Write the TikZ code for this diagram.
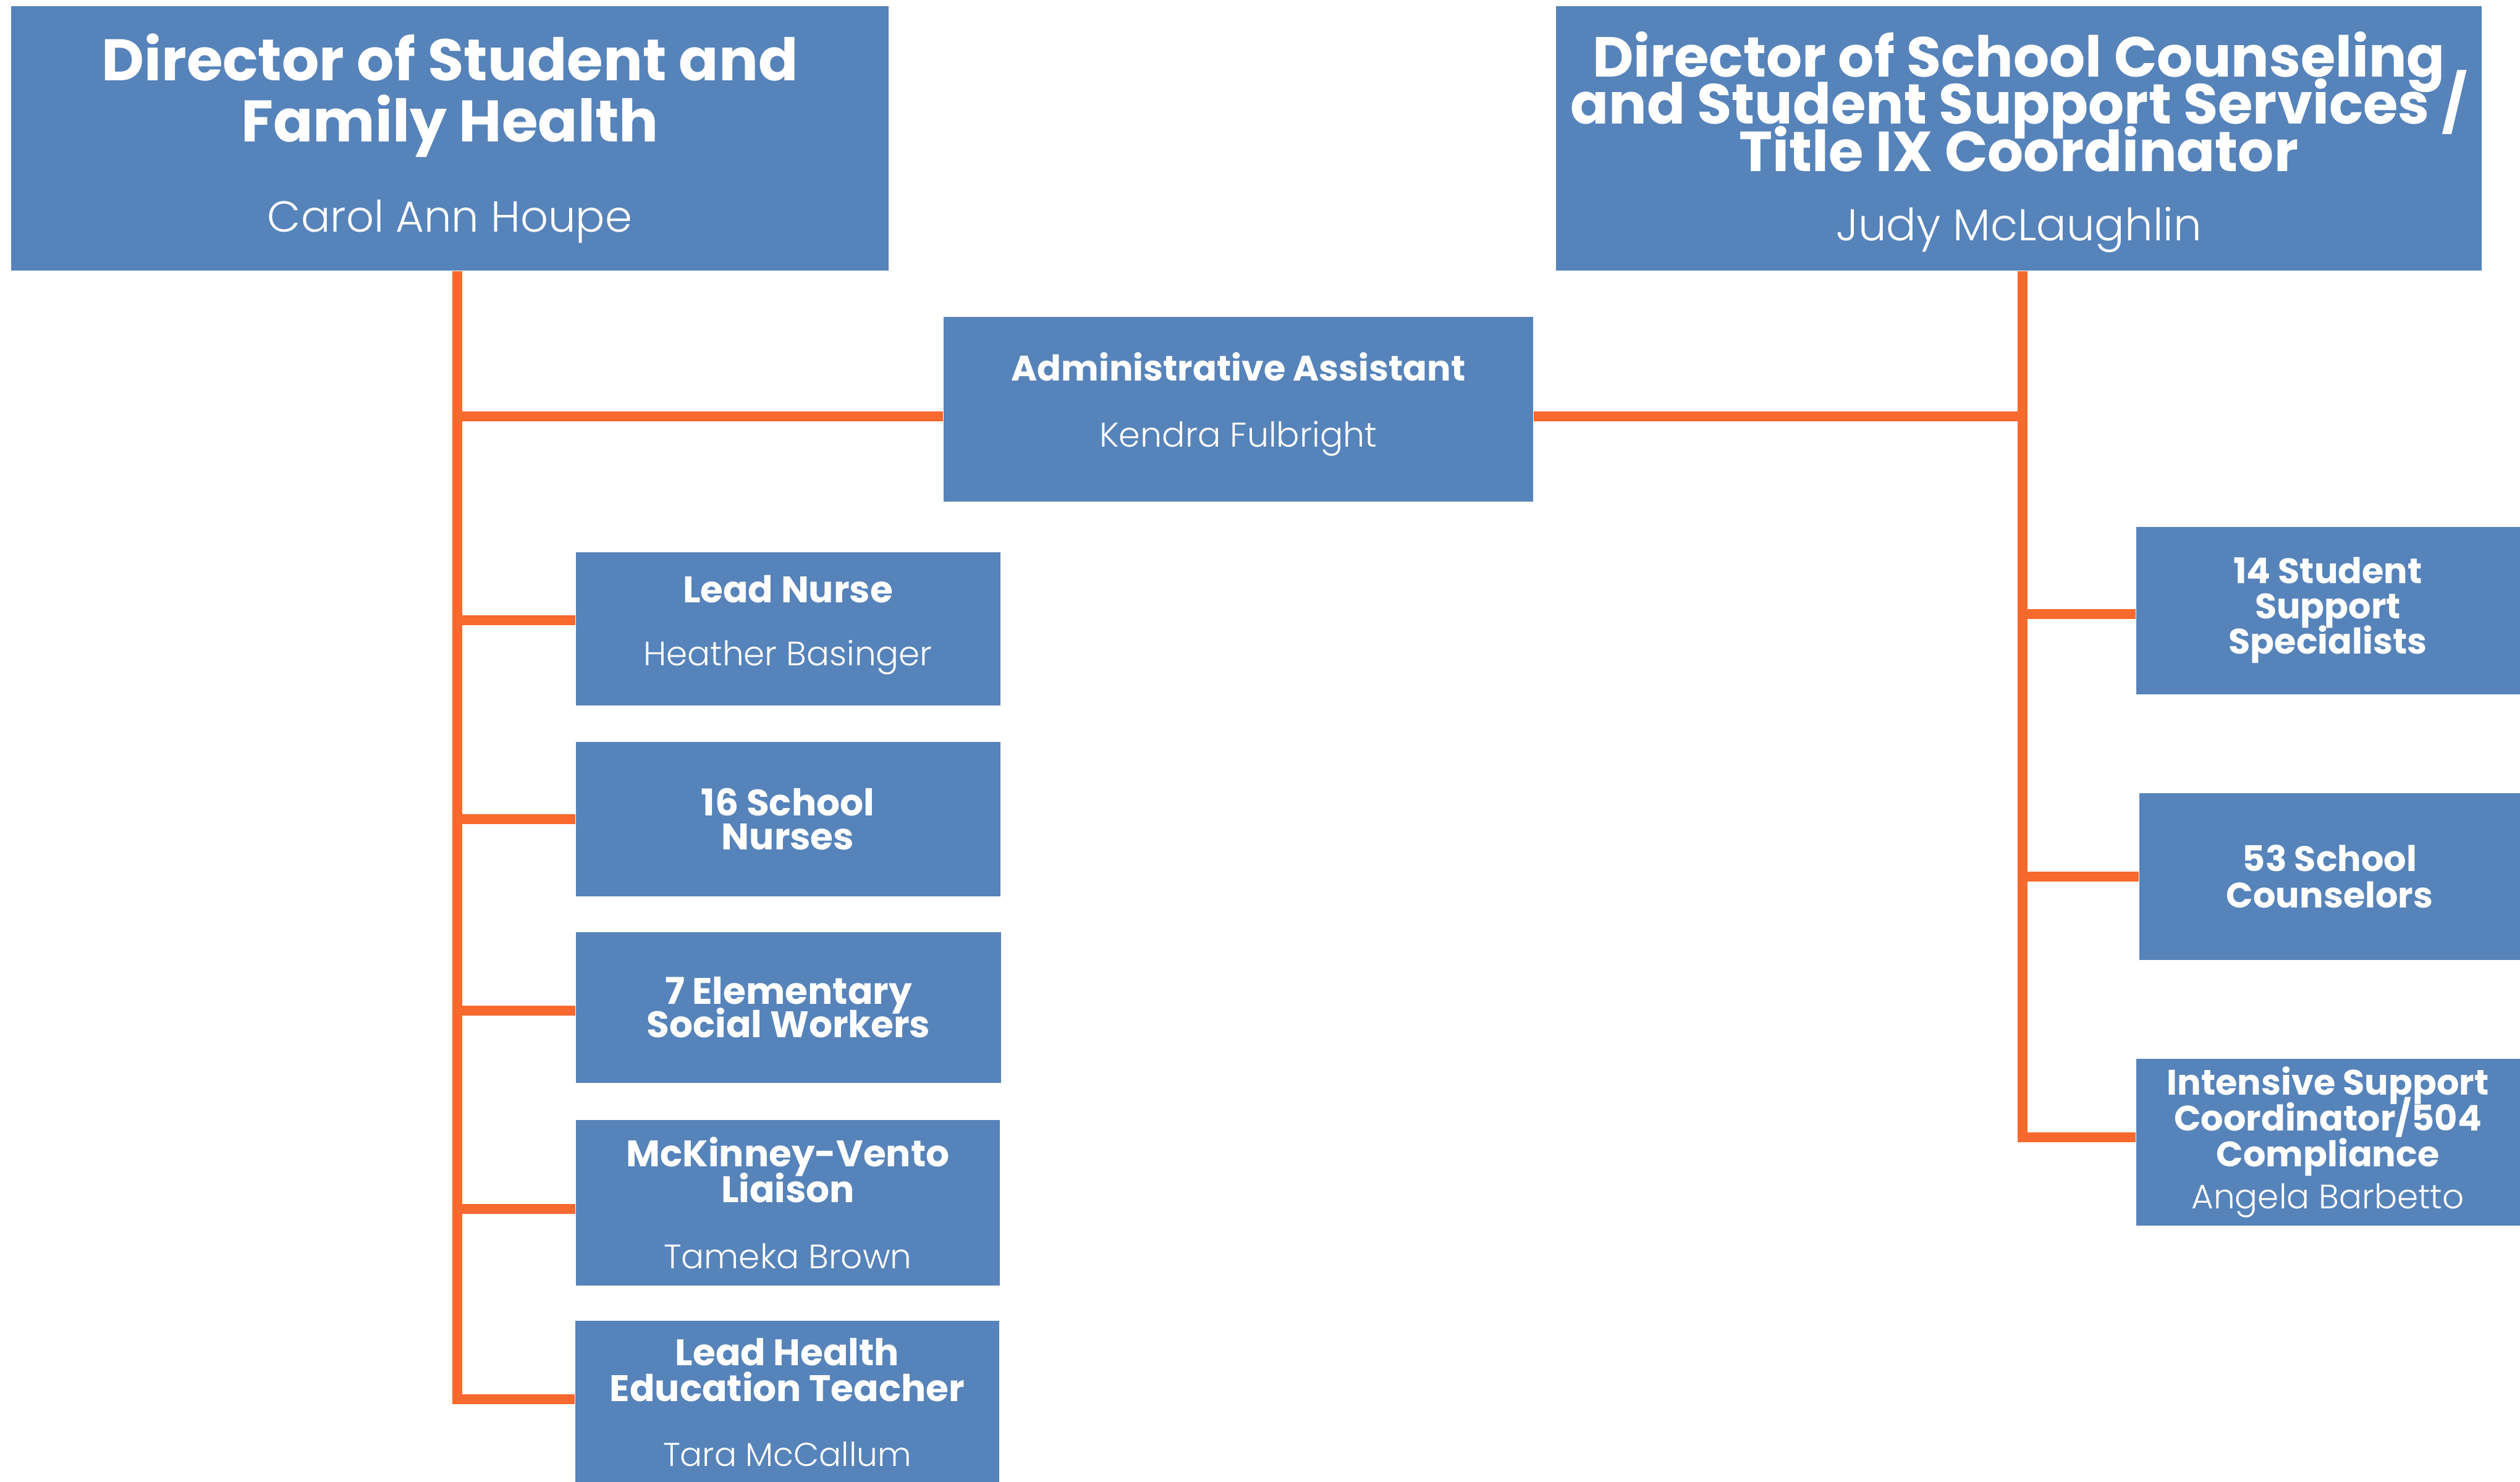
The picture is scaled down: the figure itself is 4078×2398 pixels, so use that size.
\documentclass[tikz,border=0pt]{standalone}
\usepackage{fontspec}
\setmainfont{Poppins}
\newfontfamily\namefont{Poppins Light}
\definecolor{boxblue}{HTML}{5683BA}
\definecolor{wireorange}{HTML}{F7692C}
\newcommand\tightlines{\lineskiplimit=-\maxdimen\lineskip=0pt}
\newcommand\who[2]{{\namefont\mdseries\fontsize{#1}{#1}\selectfont #2}}
\begin{document}
\begin{tikzpicture}[x=0.1mm,y=-0.1mm,
  card/.style={fill=boxblue,text=white,align=center,inner sep=0pt},
  wire/.style={draw=wireorange,line width=1.6mm}]
\useasboundingbox (0,0) rectangle (4078,2398);
% directors
\node[card,minimum width=142mm,minimum height=42.8mm,font=\bfseries\fontsize{27}{28.2}\selectfont\tightlines] at (728,224) (dirL) {Director of Student and\\Family Health\\[13.3pt]\who{20}{Carol Ann Houpe}};
\node[card,minimum width=149.8mm,minimum height=42.8mm,font=\bfseries\fontsize{26}{21.8}\selectfont\tightlines] at (3267,224) (dirR) {\rule{0pt}{24pt}Director of School Counseling\\and Student Support Services /\\Title IX Coordinator\\[10pt]\who{20.5}{Judy McLaughlin}};
\node[card,minimum width=95.4mm,minimum height=29.9mm,font=\bfseries\fontsize{16.3}{18}\selectfont\tightlines] at (2004,662) (admin) {Administrative Assistant\\[12.2pt]\who{15.8}{Kendra Fulbright}\rule[-8.5pt]{0pt}{0pt}};
% left column
\node[card,minimum width=68.7mm,minimum height=24.8mm,font=\bfseries\fontsize{17}{18}\selectfont\tightlines] at (1275,1018) (lead) {Lead Nurse\\[11pt]\who{15.6}{Heather Basinger}\rule[-7.7pt]{0pt}{0pt}};
\node[card,minimum width=68.7mm,minimum height=25mm,font=\bfseries\fontsize{17}{15.4}\selectfont\tightlines] at (1275,1326) (nurses) {16 School\\Nurses};
\node[card,minimum width=68.8mm,minimum height=24.4mm,font=\bfseries\fontsize{17}{15.4}\selectfont\tightlines] at (1276,1631) (social) {7 Elementary\\Social Workers};
\node[card,minimum width=68.6mm,minimum height=26.8mm,font=\bfseries\fontsize{17}{16.5}\selectfont\tightlines] at (1275,1947) (mkv) {McKinney-Vento\\Liaison\\[13.9pt]\who{15.6}{Tameka Brown}};
\node[card,minimum width=68.6mm,minimum height=26.4mm,font=\bfseries\fontsize{17}{16.5}\selectfont\tightlines] at (1274,2270) (health) {Lead Health\\Education Teacher\\[13.6pt]\who{15.2}{Tara McCallum}};
% right column
\node[card,minimum width=62.1mm,minimum height=27.1mm,font=\bfseries\fontsize{16.3}{16.2}\selectfont\tightlines] at (3767,988) (specialists) {14 Student\\Support\\Specialists};
\node[card,minimum width=61.7mm,minimum height=27mm,font=\bfseries\fontsize{16.3}{16.8}\selectfont\tightlines] at (3770,1419) (counselors) {53 School\\Counselors};
\node[card,minimum width=62.1mm,minimum height=27mm,font=\bfseries\fontsize{16.3}{16.5}\selectfont\tightlines] at (3767,1849) (intensive) {Intensive Support\\Coordinator/504\\Compliance\\[2.8pt]\who{15.6}{Angela Barbetto}};
% connectors
\coordinate (spineL) at ([xshift=1.2mm]dirL.south);
\coordinate (spineR) at ([xshift=0.6mm]dirR.south);
\draw[wire] (spineL) |- ([yshift=0.5mm]health.west);
\foreach \n/\o in {lead/1.4mm,nurses/0mm,social/-0.5mm,mkv/-1mm,admin/-1.2mm}
  \draw[wire] ([yshift=\o]\n.west) -- ([yshift=\o]\n.west -| spineL);
\draw[wire] (spineR) |- ([yshift=0.8mm]intensive.west);
\draw[wire] ([yshift=-1.2mm]admin.east) -- ([yshift=-1.2mm]admin.east -| spineR);
\foreach \n/\o in {specialists/-0.6mm,counselors/0mm}
  \draw[wire] ([yshift=\o]\n.west) -- ([yshift=\o]\n.west -| spineR);
\end{tikzpicture}
\end{document}
